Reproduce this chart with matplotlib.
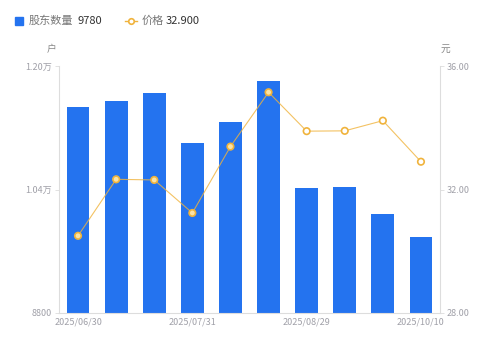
import matplotlib.pyplot as plt
import numpy as np

plt.rcParams['font.family'] = ['Noto Sans CJK SC', 'DejaVu Sans']

dates = ['2025/06/30', '2025/07/10', '2025/07/20', '2025/07/31', '2025/08/10',
         '2025/08/20', '2025/08/29', '2025/09/10', '2025/09/30', '2025/10/10']
holders = [11470, 11550, 11655, 11005, 11280, 11810, 10415, 10432, 10078, 9780]
price = [30.50, 32.33, 32.31, 31.24, 33.39, 35.15, 33.89, 33.90, 34.23, 32.90]
shown = [0, 3, 6, 9]

blue = '#2473ef'
orange = '#f0b33c'
grid_c = '#dddddd'
tick_c = '#a0a0a8'

fig = plt.figure(figsize=(4.99, 3.46), dpi=100)
ax = fig.add_axes([0.1182, 0.0954, 0.7636, 0.7138])
ax2 = ax.twinx()

x = np.arange(len(dates))
ax.bar(x, holders, width=0.6, color=blue, zorder=2)
ax.set_xlim(-0.5, len(dates) - 0.5)
ax.set_ylim(8800, 12000)
ax.set_yticks([8800, 10400, 12000])
ax.set_yticklabels(['8800', '1.04万', '1.20万'])
ax.set_xticks([x[i] for i in shown])
ax.set_xticklabels([dates[i] for i in shown])

ax2.plot(x, price, color=orange, lw=0.8, alpha=0.8, zorder=3)
face = ['#fbe3a6'] * 6 + ['white'] * 4
ax2.scatter(x, price, s=22, facecolors=face, edgecolors=orange, linewidths=1.2, zorder=4)
ax2.set_ylim(28, 36)
ax2.set_yticks([28, 32, 36])
ax2.set_yticklabels(['28.00', '32.00', '36.00'])

for a in (ax, ax2):
    for s in a.spines.values():
        s.set_visible(False)
    a.tick_params(colors=tick_c, labelsize=6.5, length=3, width=0.6, pad=2)
ax.spines['left'].set_visible(True)
ax.spines['left'].set_color(grid_c)
ax.spines['bottom'].set_visible(True)
ax.spines['bottom'].set_color(grid_c)
ax2.spines['right'].set_visible(True)
ax2.spines['right'].set_color(grid_c)
ax.tick_params(axis='x', length=0, pad=3, colors=tick_c)
ax.tick_params(axis='y', color=grid_c)
ax2.tick_params(axis='y', color=grid_c)

fig.text(52 / 499, 1 - 49 / 346, '户', fontsize=7, color='#888888', ha='center', va='center')
fig.text(445 / 499, 1 - 49 / 346, '元', fontsize=7, color='#888888', ha='center', va='center')

# legend
fig.patches.append(plt.Rectangle((15 / 499, 1 - 25 / 346), 8 / 499, 8 / 346,
                                 transform=fig.transFigure, color=blue))
fig.text(29 / 499, 1 - 21 / 346, '股东数量', fontsize=8, color='#777777', va='center')
fig.text(77 / 499, 1 - 21 / 346, str(holders[-1]), fontsize=8, color='#333333', va='center')
fig.lines.append(plt.Line2D([125 / 499, 137 / 499], [1 - 21 / 346, 1 - 21 / 346],
                            transform=fig.transFigure, color=orange, lw=1))
fig.lines.append(plt.Line2D([131 / 499], [1 - 21 / 346], transform=fig.transFigure,
                            marker='o', ms=4, mfc='white', mec=orange, mew=1.2))
fig.text(142 / 499, 1 - 21 / 346, '价格', fontsize=8, color='#777777', va='center')
fig.text(166 / 499, 1 - 21 / 346, '%.3f' % price[-1], fontsize=8, color='#333333', va='center')

fig.savefig('out.png', dpi=100)
